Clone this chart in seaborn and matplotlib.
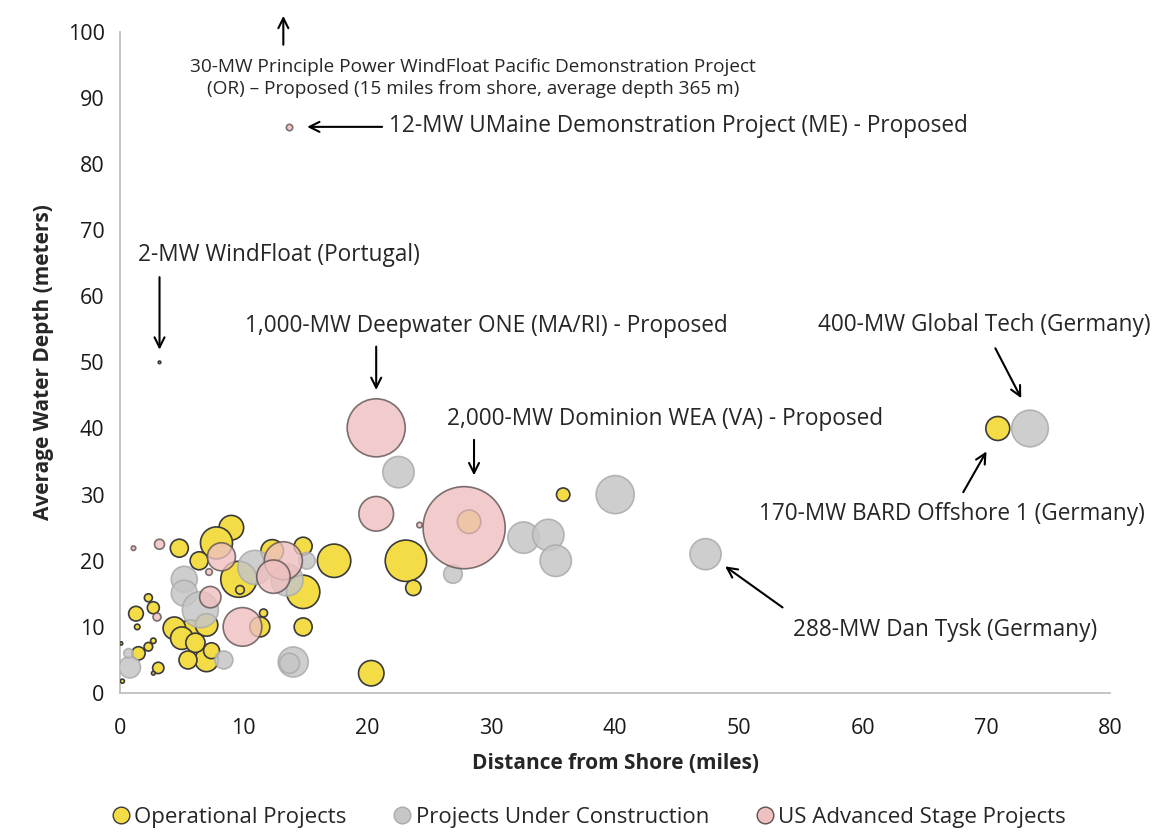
import matplotlib
matplotlib.use("Agg")
import matplotlib.pyplot as plt
from matplotlib.lines import Line2D
import seaborn as sns
import pandas as pd

# ---- data ----
op_x = [3.2, 70.9, 9.0, 7.8, 6.4, 4.8, 9.6, 9.7, 14.8, 14.8, 17.3, 12.3, 11.3, 11.6, 14.8,
        7.0, 5.5, 5.7, 4.4, 7.0, 5.0, 6.1, 7.4, 1.3, 2.7, 2.3, 1.4, 1.5, 2.3, 2.7, 3.1,
        2.7, 0.2, 0.1, 28.2, 35.8, 23.1, 23.7, 20.3]
op_y = [50.0, 40.0, 25.0, 22.7, 20.0, 21.9, 17.2, 15.6, 22.2, 15.3, 20.0, 21.5, 10.0, 12.1, 10.0,
        5.0, 5.0, 9.1, 9.8, 10.3, 8.3, 7.6, 6.4, 12.0, 12.9, 14.4, 10.0, 6.0, 7.0, 7.9, 3.8,
        3.0, 1.8, 7.5, 25.9, 30.0, 20.0, 15.9, 3.0]
op_mw = [2, 170, 180, 304, 96, 96, 385, 22, 96, 330, 330, 150, 119, 19, 96,
         162, 96, 200, 150, 150, 150, 110, 75, 64, 43, 19, 9, 53, 22, 9, 38,
         4, 5, 3, 162, 53, 508, 70, 192]

uc_x = [73.5, 47.3, 40.0, 22.5, 32.6, 34.6, 35.2, 26.9, 5.2, 5.2, 6.5, 10.9, 13.5, 15.1,
        14.0, 13.7, 8.4, 0.8, 0.7]
uc_y = [40.0, 21.0, 30.0, 33.4, 23.5, 23.9, 20.0, 18.0, 17.2, 15.1, 12.6, 19.0, 17.1, 20.0,
        4.7, 4.5, 5.0, 3.9, 6.0]
uc_mw = [400, 288, 430, 292, 292, 292, 292, 103, 200, 200, 385, 344, 304, 82,
         268, 119, 96, 136, 27]

us_x = [13.7, 20.7, 20.7, 24.2, 27.8, 8.2, 7.2, 3.2, 1.1, 7.3, 13.2, 12.4, 9.9, 3.0]
us_y = [85.5, 40.1, 27.1, 25.4, 25.0, 20.6, 18.3, 22.5, 21.9, 14.5, 20.0, 17.6, 10.0, 11.5]
us_mw = [12, 1000, 356, 9, 2000, 233, 13, 30, 6, 136, 430, 330, 443, 19]

categories = ["Operational Projects", "Projects Under Construction", "US Advanced Stage Projects"]
x_ticks = [0, 10, 20, 30, 40, 50, 60, 70, 80]
y_ticks = [0, 10, 20, 30, 40, 50, 60, 70, 80, 90, 100]

# ---- style ----
sns.set_style("white")
plt.rcParams["font.family"] = ["Open Sans", "DejaVu Sans"]

fills = {"Operational Projects": "#F3DC45",
         "Projects Under Construction": "#C6C6C6",
         "US Advanced Stage Projects": "#EFC0C0"}
edges = {"Operational Projects": "#3A3A3A",
         "Projects Under Construction": "#ABABAB",
         "US Advanced Stage Projects": "#5E5050"}
alphas = {"Operational Projects": 1.0,
          "Projects Under Construction": 0.85,
          "US Advanced Stage Projects": 0.8}

fig = plt.figure(figsize=(11.64, 8.32), dpi=100)
ax = fig.add_axes([0.103, 0.167, 0.851, 0.795])

frames = [
    pd.DataFrame({"x": op_x, "y": op_y, "mw": op_mw, "cat": categories[0]}),
    pd.DataFrame({"x": uc_x, "y": uc_y, "mw": uc_mw, "cat": categories[1]}),
    pd.DataFrame({"x": us_x, "y": us_y, "mw": us_mw, "cat": categories[2]}),
]
for df in frames:
    c = df["cat"].iloc[0]
    sns.scatterplot(data=df, x="x", y="y", size="mw", sizes=(0, 3494), size_norm=(0, 2000),
                    color=fills[c], edgecolor=edges[c], linewidth=1.2, alpha=alphas[c],
                    legend=False, ax=ax, zorder=3)

ax.set_xlim(0, 80)
ax.set_ylim(0, 100)
ax.set_xticks(x_ticks)
ax.set_yticks(y_ticks)
for s in ["top", "right"]:
    ax.spines[s].set_visible(False)
for s in ["left", "bottom"]:
    ax.spines[s].set_color("#BFBFBF")
    ax.spines[s].set_linewidth(1.3)
ax.tick_params(direction="out", length=6, width=1.2, color="#BFBFBF",
               labelsize=15.5, labelcolor="#1a1a1a")
ax.tick_params(axis="x", pad=12)
ax.tick_params(axis="y", pad=5)
ax.set_xlabel("Distance from Shore (miles)", fontsize=15, fontweight="bold", labelpad=10)
ax.set_ylabel("Average Water Depth (meters)", fontsize=15, fontweight="bold", labelpad=10)

arrow = dict(arrowstyle="->", color="black", lw=1.5, mutation_scale=18)
fs = 16.3

# annotations
ax.annotate("", xy=(13.2, 102.8), xytext=(13.2, 97.6), arrowprops=arrow, annotation_clip=False)
ax.text(28.5, 93.0, "30-MW Principle Power WindFloat Pacific Demonstration Project\n"
        "(OR) \u2013 Proposed (15 miles from shore, average depth 365 m)",
        ha="center", va="center", fontsize=13.7, linespacing=1.25)

ax.annotate("", xy=(14.9, 85.6), xytext=(21.4, 85.6), arrowprops=arrow)
ax.text(21.7, 85.8, "12-MW UMaine Demonstration Project (ME) - Proposed",
        ha="left", va="center", fontsize=fs)

ax.text(1.45, 66.3, "2-MW WindFloat (Portugal)", ha="left", va="center", fontsize=fs)
ax.annotate("", xy=(3.2, 51.5), xytext=(3.2, 63.3), arrowprops=arrow)

ax.text(10.1, 55.5, "1,000-MW Deepwater ONE (MA/RI) - Proposed", ha="left", va="center", fontsize=fs)
ax.annotate("", xy=(20.7, 45.4), xytext=(20.7, 52.8), arrowprops=arrow)

ax.text(26.4, 41.5, "2,000-MW Dominion WEA (VA) - Proposed", ha="left", va="center", fontsize=fs)
ax.annotate("", xy=(28.6, 32.5), xytext=(28.6, 38.7), arrowprops=arrow)

ax.text(56.4, 55.7, "400-MW Global Tech (Germany)", ha="left", va="center", fontsize=fs)
ax.annotate("", xy=(72.9, 44.2), xytext=(70.6, 52.5), arrowprops=arrow)

ax.text(51.6, 27.1, "170-MW BARD Offshore 1 (Germany)", ha="left", va="center", fontsize=fs)
ax.annotate("", xy=(70.1, 36.9), xytext=(68.0, 30.0), arrowprops=arrow)

ax.text(54.4, 9.5, "288-MW Dan Tysk (Germany)", ha="left", va="center", fontsize=fs)
ax.annotate("", xy=(48.7, 19.4), xytext=(53.7, 12.7), arrowprops=arrow)

# legend
handles = [Line2D([0], [0], marker="o", linestyle="", markersize=12,
                  markerfacecolor=fills[c], markeredgecolor=edges[c], markeredgewidth=1.0)
           for c in categories]
fig.legend(handles, categories, loc="lower center", bbox_to_anchor=(0.505, -0.019), ncol=3,
           frameon=False, fontsize=16, handletextpad=0.1, columnspacing=2.0,
           handlelength=1.0)

fig.savefig("out.png", dpi=100)
